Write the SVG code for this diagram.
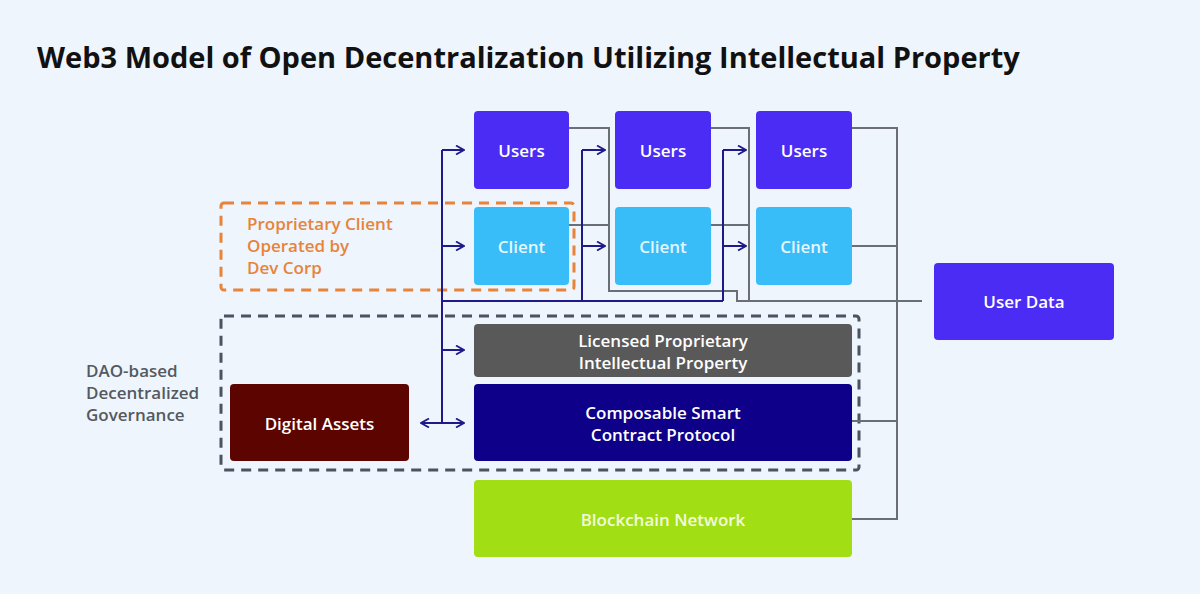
<svg xmlns="http://www.w3.org/2000/svg" width="1200" height="594" viewBox="0 0 1200 594">
<defs>
<marker id="ah" viewBox="0 0 10 10" refX="9" refY="5" markerWidth="10" markerHeight="10" markerUnits="userSpaceOnUse" orient="auto-start-reverse">
<path d="M1,0.5 L9,5 L1,9.5" fill="none" stroke="#1E1A8A" stroke-width="1.8"/>
</marker>
<style>
.t{font-family:"Open Sans","Liberation Sans",sans-serif;font-weight:600;font-size:17px;fill:#FFFFFF;text-anchor:middle;dominant-baseline:central}
.nv{stroke:#1E1A8A;stroke-width:2;fill:none}
.gr{stroke:#6B6E74;stroke-width:2;fill:none}
.lbl{font-family:"Open Sans","Liberation Sans",sans-serif;font-weight:600;font-size:17px}
</style>
</defs>
<rect width="1200" height="594" fill="#EEF5FC"/>
<text x="37" y="68" font-family="'Open Sans','Liberation Sans',sans-serif" font-weight="700" font-size="29" fill="#111111">Web3 Model of Open Decentralization Utilizing Intellectual Property</text>

<g id="group-proprietary">
<rect x="221" y="203" width="353" height="87" rx="3" fill="none" stroke="#E8833A" stroke-width="3" stroke-dasharray="10,7"/>
<text class="lbl" fill="#E8833A"><tspan x="247" y="230">Proprietary Client</tspan><tspan x="247" y="252">Operated by</tspan><tspan x="247" y="274">Dev Corp</tspan></text>
</g>
<g id="group-dao">
<rect x="221" y="316" width="638" height="154" rx="3" fill="none" stroke="#4B5260" stroke-width="3" stroke-dasharray="10,7"/>
<text class="lbl" fill="#55595F"><tspan x="86" y="377">DAO-based</tspan><tspan x="86" y="399">Decentralized</tspan><tspan x="86" y="421">Governance</tspan></text>
</g>

<g id="connectors">
<path class="gr" d="M569,128 H609 V291 H737 V301 H922"/>
<path class="gr" d="M569,225 H609"/>
<path class="gr" d="M711,128 H749 V301"/>
<path class="gr" d="M711,225 H749"/>
<path class="gr" d="M852,128 H897 V519 H852"/>
<path class="gr" d="M852,246 H897"/>
<path class="gr" d="M852,421 H897"/>
<path class="nv" d="M442,150 V423"/>
<path class="nv" d="M442,301 H723"/>
<path class="nv" d="M582,150 V301"/>
<path class="nv" d="M723,150 V301"/>
<path class="nv" d="M442,150 H464" marker-end="url(#ah)"/>
<path class="nv" d="M442,246 H464" marker-end="url(#ah)"/>
<path class="nv" d="M442,350 H464" marker-end="url(#ah)"/>
<path class="nv" d="M421,423 H464" marker-start="url(#ah)" marker-end="url(#ah)"/>
<path class="nv" d="M582,150 H605" marker-end="url(#ah)"/>
<path class="nv" d="M582,246 H605" marker-end="url(#ah)"/>
<path class="nv" d="M723,150 H746" marker-end="url(#ah)"/>
<path class="nv" d="M723,246 H746" marker-end="url(#ah)"/>
</g>

<g id="users-1"><rect x="474" y="111" width="95" height="78" rx="4" fill="#4A2CF5"/><text class="t" x="521.5" y="150">Users</text></g>
<g id="users-2"><rect x="615" y="111" width="96" height="78" rx="4" fill="#4A2CF5"/><text class="t" x="663" y="150">Users</text></g>
<g id="users-3"><rect x="756" y="111" width="96" height="78" rx="4" fill="#4A2CF5"/><text class="t" x="804" y="150">Users</text></g>
<g id="client-1"><rect x="474" y="207" width="95" height="78" rx="4" fill="#38BDF8"/><text class="t" x="521.5" y="246" style="fill:#E6F6FE">Client</text></g>
<g id="client-2"><rect x="615" y="207" width="96" height="78" rx="4" fill="#38BDF8"/><text class="t" x="663" y="246" style="fill:#E6F6FE">Client</text></g>
<g id="client-3"><rect x="756" y="207" width="96" height="78" rx="4" fill="#38BDF8"/><text class="t" x="804" y="246" style="fill:#E6F6FE">Client</text></g>
<g id="user-data"><rect x="934" y="263" width="180" height="77" rx="4" fill="#4A2CF5"/><text class="t" x="1024" y="301">User Data</text></g>
<g id="licensed-ip"><rect x="474" y="324" width="378" height="53" rx="4" fill="#595959"/><text class="t"><tspan x="663" y="340">Licensed Proprietary</tspan><tspan x="663" y="362">Intellectual Property</tspan></text></g>
<g id="smart-contract"><rect x="474" y="384" width="378" height="77" rx="4" fill="#0E0088"/><text class="t"><tspan x="663" y="412">Composable Smart</tspan><tspan x="663" y="434">Contract Protocol</tspan></text></g>
<g id="digital-assets"><rect x="230" y="384" width="179" height="77" rx="4" fill="#5C0500"/><text class="t" x="319.5" y="423">Digital Assets</text></g>
<g id="blockchain"><rect x="474" y="480" width="378" height="77" rx="4" fill="#A2DE14"/><text class="t" x="663" y="519" style="fill:#F2FBDD">Blockchain Network</text></g>
</svg>
